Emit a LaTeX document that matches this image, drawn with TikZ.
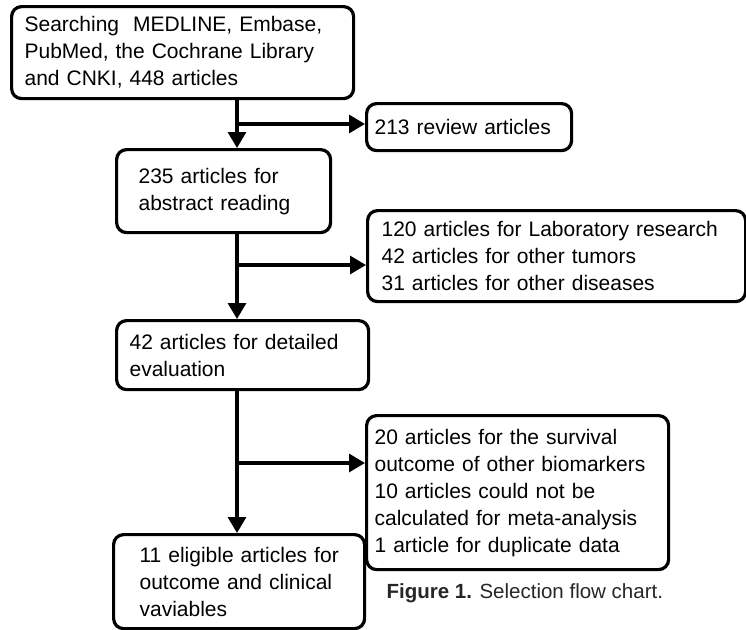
\documentclass[tikz,border=0pt]{standalone}
\usepackage{fontspec}
\setmainfont{Liberation Sans}
\usetikzlibrary{arrows.meta,positioning,calc}

\begin{document}
\begin{tikzpicture}[
    x=1pt, y=-1pt,
    box/.style={draw, line width=3.2pt, rounded corners=10pt, anchor=north west,
      align=left, inner ysep=0pt, font=\fontsize{21}{27}\selectfont},
    link/.style={-{Triangle[length=16pt,width=18pt]}, line width=3.2pt},
    branch/.style={-{Triangle[length=16pt,width=18pt]}, line width=3.2pt}
  ]
    \useasboundingbox (0,0) rectangle (746,629);

    \node[box, minimum width=342pt, minimum height=92pt, inner xsep=13pt, text width=316pt] (search) at (10,5)
      {Searching\ \ MEDLINE, Embase,\\PubMed, the Cochrane Library\\and CNKI, 448 articles};
    \node[box, minimum width=205pt, minimum height=47pt, inner xsep=8pt, text width=189pt] (review) at (365,102)
      {213 review articles};
    \node[box, minimum width=214pt, minimum height=83pt, inner xsep=22pt, text width=170pt] (abstract) at (115,148)
      {235 articles for\\abstract reading};
    \node[box, minimum width=378pt, minimum height=91pt, inner xsep=14pt, text width=350pt] (excl1) at (366,209)
      {120 articles for Laboratory research\\42 articles for other tumors\\31 articles for other diseases};
    \node[box, minimum width=252pt, minimum height=69pt, inner xsep=13pt, text width=226pt] (detail) at (115,319)
      {42 articles for detailed\\evaluation};
    \node[box, minimum width=302pt, minimum height=154pt, inner xsep=8pt, text width=286pt] (excl2) at (365,414)
      {20 articles for the survival\\outcome of other biomarkers\\10 articles could not be\\calculated for meta-analysis\\1 article for duplicate data};
    \node[box, minimum width=251pt, minimum height=94pt, inner xsep=26pt, text width=199pt] (eligible) at (112,533)
      {\mbox{11 eligible articles for}\\\mbox{outcome and clinical}\\vaviables};

    \node[anchor=west, text=black!85, font=\fontsize{20.5}{24}\selectfont] (caption) at (383,593)
      {\textbf{Figure 1.} Selection flow chart.};

    % branch points on the main line
    \coordinate (j1) at (237,124);
    \coordinate (j2) at (237,265);
    \coordinate (j3) at (237,463);

    \draw[link] (search.south -| j1) -- (abstract.north -| j1);
    \draw[branch] (j1) -- (j1 -| review.west);

    \draw[link] (abstract.south -| j2) -- (detail.north -| j2);
    \draw[branch] (j2) -- (j2 -| excl1.west);

    \draw[link] (detail.south -| j3) -- (eligible.north -| j3);
    \draw[branch] (j3) -- (j3 -| excl2.west);
  \end{tikzpicture}
\end{document}
